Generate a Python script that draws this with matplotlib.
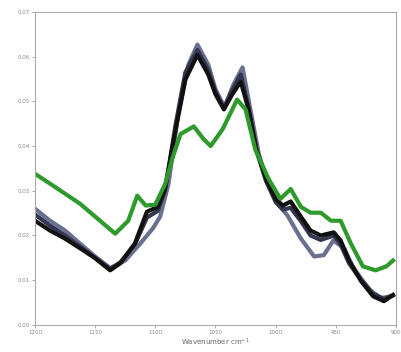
import matplotlib
matplotlib.use("Agg")
import matplotlib.pyplot as plt

# wavenumber (cm^-1) and absorbance for each spectrum
wn_green = [1200, 1187.5, 1162.5, 1133.3, 1122.5, 1115, 1108, 1100, 1091.7, 1086,
            1079, 1068, 1060, 1054, 1044, 1032, 1025, 1017, 1006, 996, 987.5, 979,
            971, 962.5, 954, 946, 937.5, 927.5, 917, 908, 902.5]
ab_green = [0.0338, 0.0316, 0.0271, 0.0204, 0.0233, 0.0289, 0.0267, 0.0269, 0.0316,
            0.0371, 0.0427, 0.0444, 0.0416, 0.0400, 0.0438, 0.0504, 0.0482, 0.0393,
            0.0327, 0.0282, 0.0304, 0.0264, 0.0251, 0.0251, 0.0233, 0.0233, 0.0182,
            0.0131, 0.0122, 0.0131, 0.0144]

wn_black = [1200, 1187.5, 1175, 1160, 1150, 1137.5, 1129, 1117, 1107, 1098, 1092,
            1083, 1075, 1065, 1056, 1050, 1043, 1036, 1029, 1022.5, 1016, 1008, 1000,
            994, 987.5, 979, 971, 962.5, 951.7, 946, 939, 929, 919, 910, 902.5]
ab_black = [0.0233, 0.0211, 0.0193, 0.0167, 0.0149, 0.0122, 0.0138, 0.0182, 0.0253,
            0.0264, 0.0304, 0.0438, 0.0549, 0.0604, 0.0560, 0.0516, 0.0482, 0.0516,
            0.0544, 0.0482, 0.0393, 0.0327, 0.0282, 0.0267, 0.0276, 0.0242, 0.0211,
            0.0200, 0.0207, 0.0189, 0.0144, 0.0098, 0.0064, 0.0053, 0.0067]

wn_navy = [1200, 1187.5, 1175, 1160, 1150, 1137.5, 1129, 1117, 1107, 1098, 1092,
           1083, 1075, 1065, 1056, 1050, 1043, 1036, 1029, 1022.5, 1016, 1008, 1000,
           994, 987.5, 979, 971, 962.5, 951.7, 946, 939, 929, 919, 910, 902.5]
ab_navy = [0.0247, 0.0222, 0.0200, 0.0170, 0.0150, 0.0125, 0.0140, 0.0180, 0.0240,
           0.0255, 0.0300, 0.0450, 0.0565, 0.0615, 0.0570, 0.0522, 0.0485, 0.0525,
           0.0560, 0.0485, 0.0390, 0.0322, 0.0275, 0.0258, 0.0262, 0.0232, 0.0200,
           0.0190, 0.0200, 0.0180, 0.0138, 0.0100, 0.0070, 0.0058, 0.0066]

wn_slate = [1200, 1187.5, 1175, 1160, 1150, 1137.5, 1125, 1112.5, 1102, 1096, 1089,
            1081, 1072.5, 1065, 1056, 1050, 1042.5, 1035, 1027.5, 1021, 1014, 1007,
            998, 990, 979, 968, 960, 952, 943, 936, 929, 921, 912.5, 904]
ab_slate = [0.0260, 0.0233, 0.0211, 0.0176, 0.0153, 0.0127, 0.0144, 0.0182, 0.0216,
            0.0242, 0.0316, 0.0471, 0.0582, 0.0627, 0.0582, 0.0527, 0.0487, 0.0538,
            0.0576, 0.0482, 0.0382, 0.0320, 0.0271, 0.0244, 0.0193, 0.0153, 0.0156,
            0.0189, 0.0171, 0.0131, 0.0104, 0.0076, 0.0060, 0.0064]

xticks = [1200, 1150, 1100, 1050, 1000, 950, 900]
yticks = [0, 0.01, 0.02, 0.03, 0.04, 0.05, 0.06, 0.07]

fig = plt.figure(figsize=(4.02, 3.52), dpi=100)
ax = fig.add_axes([0.087, 0.077, 0.898, 0.889])

ax.plot(wn_slate, ab_slate, color="#6a7090", lw=3)
ax.plot(wn_navy, ab_navy, color="#34364f", lw=3)
ax.plot(wn_black, ab_black, color="#111111", lw=3)
ax.plot(wn_green, ab_green, color="#2f9a2c", lw=3)

ax.set_xlim(1200, 900)
ax.set_ylim(0, 0.07)
ax.set_xticks(xticks)
ax.set_yticks(yticks)
ax.tick_params(labelsize=4, colors="#888888", length=2, width=0.5, pad=2)
for s in ax.spines.values():
    s.set_color("#aaaaaa")
    s.set_linewidth(0.8)
ax.set_xlabel("Wavenumber cm$^{-1}$", fontsize=5, color="#666666", labelpad=1)

fig.savefig("out.png", dpi=100)
